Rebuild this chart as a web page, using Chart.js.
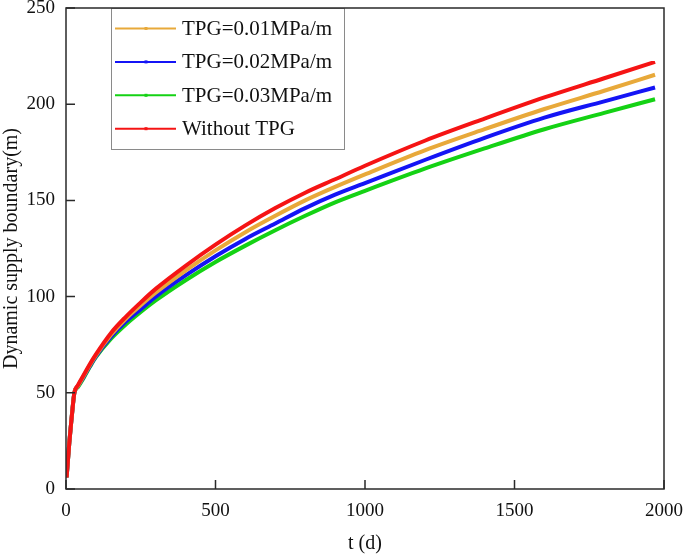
<!DOCTYPE html>
<html>
<head>
<meta charset="utf-8">
<script src="https://cdn.jsdelivr.net/npm/chart.js@4.4.0/dist/chart.umd.min.js"></script>
<style>
html,body{margin:0;padding:0;background:#fff;}
#wrap{width:685px;height:556px;}
</style>
</head>
<body>
<div id="wrap"><canvas id="chart" width="685" height="556"></canvas></div>
<script>
"use strict";

// time (days) and boundary (m)
const days    = [2, 6, 11, 17, 22, 28, 40, 60, 80, 100, 150, 200, 250, 300, 400, 500, 600, 700, 800, 900, 1000, 1200, 1400, 1600, 1800, 1970];
const tpg001  = [6, 14, 24, 34, 42, 50, 53.5, 59, 64.5, 69.5, 80, 88.5, 95.5, 102, 113.5, 124, 133.5, 142, 150, 157, 163.5, 176, 187, 197.5, 207, 215.3];
const tpg002  = [6, 14, 24, 34, 42, 50, 53.5, 58.5, 64, 69, 79, 87, 93.5, 100, 111, 121, 130, 138, 146, 153, 159, 171, 182.5, 193, 201.5, 208.7];
const tpg003  = [6, 14, 24, 34, 42, 50, 53, 58, 63.5, 68.5, 78, 85.5, 92, 98, 108.5, 118, 126.5, 134.5, 142, 149, 155, 166.5, 177, 187, 195.5, 202.6];
const noTpg   = [6, 14, 24, 34, 42, 50, 54, 59.5, 65, 70, 81, 89.5, 97, 104, 116, 127, 137, 146, 154, 161, 168, 181, 192.5, 203.5, 213.5, 222];

const seriesNames  = ["TPG=0.01MPa/m", "TPG=0.02MPa/m", "TPG=0.03MPa/m", "Without TPG"];
const seriesColors = ["#E8A93A", "#1414F5", "#14D214", "#F51414"];
const xTicks = [0, 500, 1000, 1500, 2000];
const yTicks = [0, 50, 100, 150, 200, 250];

function pairs(ys){
  return days.map((d, i) => ({x: d, y: ys[i]}));
}

const allSeries = [tpg001, tpg002, tpg003, noTpg];
const datasets = allSeries.map((ys, i) => ({
  label: seriesNames[i],
  data: pairs(ys),
  borderColor: seriesColors[i],
  backgroundColor: seriesColors[i],
  borderWidth: 4,
  pointRadius: 0,
  cubicInterpolationMode: "monotone",
  order: i == 3 ? -1 : i
}));

// frame round the plot, ticks pointing inward
const frameTicks = {
  id: "frameTicks",
  afterDraw(chart){
    const ctx = chart.ctx;
    const a = chart.chartArea;
    ctx.save();
    ctx.strokeStyle = "#2a2a2a";
    ctx.lineWidth = 1.5;
    ctx.strokeRect(a.left, a.top, a.right - a.left, a.bottom - a.top);
    ctx.beginPath();
    for(const v of xTicks){
      const px = chart.scales.x.getPixelForValue(v);
      ctx.moveTo(px, a.bottom);
      ctx.lineTo(px, a.bottom - 9);
    }
    for(const v of yTicks){
      const py = chart.scales.y.getPixelForValue(v);
      ctx.moveTo(a.left, py);
      ctx.lineTo(a.left + 9, py);
    }
    ctx.stroke();
    ctx.restore();
  }
};

// boxed legend in the upper left of the plot
const legendBox = {
  id: "legendBox",
  afterDraw(chart){
    const ctx = chart.ctx;
    ctx.save();
    ctx.fillStyle = "#fff";
    ctx.fillRect(111, 8, 233, 142);
    ctx.strokeStyle = "#8a8a8a";
    ctx.lineWidth = 1;
    ctx.strokeRect(111.5, 8.5, 233, 141);
    ctx.font = "21px 'Liberation Serif', 'Times New Roman', serif";
    ctx.textBaseline = "middle";
    chart.data.datasets.forEach((ds, i) => {
      const y = 28.5 + i * 33.4;
      ctx.strokeStyle = ds.borderColor;
      ctx.lineWidth = 2;
      ctx.beginPath();
      ctx.moveTo(115, y);
      ctx.lineTo(176, y);
      ctx.stroke();
      ctx.fillStyle = ds.borderColor;
      ctx.fillRect(144.5, y - 1.5, 3, 3);
      ctx.fillStyle = "#111";
      ctx.fillText(ds.label, 182, y + 1);
    });
    ctx.restore();
  }
};

Chart.defaults.font.family = "'Liberation Serif', 'Times New Roman', serif";
Chart.defaults.font.size = 19;
Chart.defaults.color = "#111";

new Chart(document.getElementById("chart"), {
  type: "line",
  data: {datasets: datasets},
  options: {
    responsive: false,
    animation: false,
    layout: {padding: {left: 0, top: 8, right: 21, bottom: 0}},
    plugins: {
      legend: {display: false},
      tooltip: {enabled: false}
    },
    scales: {
      x: {
        type: "linear",
        min: 0,
        max: 2000,
        afterBuildTicks: s => { s.ticks = xTicks.map(v => ({value: v})); },
        afterFit: s => { s.height = 67; s.paddingRight = 0; s.paddingLeft = 0; },
        grid: {display: false, drawTicks: false},
        border: {display: false},
        ticks: {padding: 11, maxRotation: 0, callback: v => String(v)},
        title: {display: true, text: "t (d)", font: {size: 20}, padding: {top: 0, bottom: 0}}
      },
      y: {
        type: "linear",
        min: 0,
        max: 250,
        afterBuildTicks: s => { s.ticks = yTicks.map(v => ({value: v})); },
        afterFit: s => { s.width = 66; s.paddingTop = 0; s.paddingBottom = 0; },
        grid: {display: false, drawTicks: false},
        border: {display: false},
        ticks: {padding: 11, callback: v => String(v)},
        title: {display: true, text: "Dynamic supply boundary(m)", font: {size: 20}, padding: {top: 0, bottom: 0}}
      }
    }
  },
  plugins: [legendBox, frameTicks]
});
</script>
</body>
</html>
